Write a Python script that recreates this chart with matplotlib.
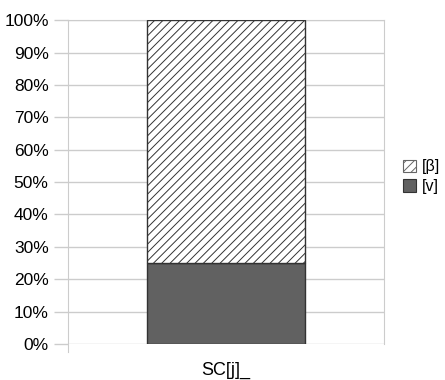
import matplotlib.pyplot as plt
from matplotlib.patches import Patch

# stacked shares for the single category
categories = ["SC[j]_"]
share_v = [25]
share_beta = [75]
series_labels = ["[β]", "[v]"]

plt.rcParams['font.family'] = ['Liberation Sans', 'DejaVu Sans']
plt.rcParams['hatch.color'] = '#b0b0b0'
plt.rcParams['hatch.linewidth'] = 0.7

fig = plt.figure(figsize=(4.45, 3.8), dpi=100)
ax = fig.add_axes([0.153, 0.095, 0.710, 0.852])

x = range(len(categories))
ax.bar(x, share_v, width=1.0, color='#616161', edgecolor='#333333', linewidth=1.0, zorder=3)
ax.bar(x, share_beta, bottom=share_v, width=1.0, color='white', edgecolor='#333333',
       hatch='////', linewidth=1.0, zorder=3)

ax.set_xlim(-1, 1)
ax.set_ylim(0, 100)
ax.set_yticks(range(0, 101, 10))
ax.set_yticklabels([f"{v}%" for v in range(0, 101, 10)], fontsize=12.5)
ax.set_xticks(list(x))
ax.set_xticklabels(categories, fontsize=13)
ax.tick_params(axis='x', length=0, pad=13)
ax.tick_params(axis='y', length=10, color='#cccccc', width=1, pad=4)

ax.grid(axis='y', color='#cccccc', linewidth=1, zorder=0)
for side in ['top', 'right', 'left', 'bottom']:
    ax.spines[side].set_color('#cccccc')
ax.spines['bottom'].set_visible(False)
ax.spines['left'].set_bounds(-2.5, 100)
ax.set_ylim(0, 100)

handles = [Patch(facecolor='white', edgecolor='#666666', hatch='////', linewidth=0.8),
           Patch(facecolor='#616161', edgecolor='#333333', linewidth=0.8)]
fig.legend(handles, series_labels, loc='center left', bbox_to_anchor=(0.905, 0.535),
           frameon=False, fontsize=11.5, handlelength=0.8, handleheight=0.8,
           handletextpad=0.4, labelspacing=0.3, borderpad=0, borderaxespad=0)

fig.savefig('out.png', dpi=100)
